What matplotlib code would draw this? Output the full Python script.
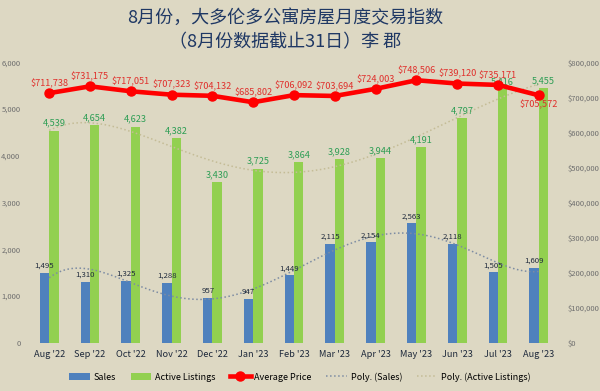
import numpy as np
import matplotlib.pyplot as plt
from matplotlib.ticker import FuncFormatter

plt.rcParams['font.family'] = ['Noto Sans CJK SC', 'DejaVu Sans']

months = ["Aug '22", "Sep '22", "Oct '22", "Nov '22", "Dec '22", "Jan '23", "Feb '23",
          "Mar '23", "Apr '23", "May '23", "Jun '23", "Jul '23", "Aug '23"]
sales = [1495, 1310, 1325, 1288, 957, 947, 1449, 2115, 2154, 2563, 2118, 1505, 1609]
listings = [4539, 4654, 4623, 4382, 3430, 3725, 3864, 3928, 3944, 4191, 4797, 5416, 5455]
price = [711738, 731175, 717051, 707323, 704132, 685802, 706092, 703694, 724003,
         748506, 739120, 735171, 705572]

bg = '#DDD8C3'
blue = '#4F81BD'
green = '#92D050'
red = '#FF0000'

fig = plt.figure(figsize=(6, 3.91), dpi=100, facecolor=bg)
ax = fig.add_axes([0.048, 0.123, 0.884, 0.718], facecolor=bg)
ax2 = ax.twinx()

x = np.arange(len(months))
w = 0.23
b1 = ax.bar(x - w / 2, sales, w, color=blue, label='Sales')
b2 = ax.bar(x + w / 2, listings, w, color=green, label='Active Listings')

# polynomial trendlines (order 5), like the Excel ones
xs = np.linspace(0, len(months) - 1, 200)
ps = np.polyfit(x, sales, 5)
pl = np.polyfit(x, listings, 5)
t1, = ax.plot(xs, np.polyval(ps, xs), ':', color='#7D8CA3', lw=1.1, label='Poly. (Sales)')
t2, = ax.plot(xs, np.polyval(pl, xs), ':', color='#C4BC96', lw=1.1, label='Poly. (Active Listings)')

ln, = ax2.plot(x, price, '-o', color=red, lw=3.3, ms=6.5, label='Average Price')

for i in range(len(months)):
    ax.text(x[i] - w / 2, sales[i] + 60, f'{sales[i]:,}', ha='center', va='bottom',
            fontsize=5.6, color='#1F2A3C')
    ax.text(x[i] + w / 2, listings[i] + 60, f'{listings[i]:,}', ha='center', va='bottom',
            fontsize=6.6, color='#2E9E55')
    if i == len(months) - 1:
        ax2.text(x[i], price[i] - 14000, f'${price[i]:,}', ha='center', va='top',
                 fontsize=6.6, color='#E0302C')
    else:
        ax2.text(x[i], price[i] + 14000, f'${price[i]:,}', ha='center', va='bottom',
                 fontsize=6.6, color='#E0302C')

ax.set_xlim(-0.5, len(months) - 0.5)
ax.set_ylim(0, 6000)
ax2.set_ylim(0, 800000)
ax.set_yticks(range(0, 6001, 1000))
ax2.set_yticks(range(0, 800001, 100000))
ax.yaxis.set_major_formatter(FuncFormatter(lambda v, p: f'{int(v):,}'))
ax2.yaxis.set_major_formatter(FuncFormatter(lambda v, p: f'${int(v):,}'))
ax.set_xticks(x)
ax.set_xticklabels(months, fontsize=6.6, color='#1F2A3C')
ax.tick_params(axis='y', labelsize=5.5, labelcolor='#6E6E6E', length=0, pad=6)
ax2.tick_params(axis='y', labelsize=5.5, labelcolor='#6E6E6E', length=0, pad=6)
ax.tick_params(axis='x', length=0, pad=5)
for a in (ax, ax2):
    for s in a.spines.values():
        s.set_visible(False)

fig.text(0.475, 0.955, '8月份，大多伦多公寓房屋月度交易指数', ha='center', va='center',
         fontsize=13, color='#1F3864')
fig.text(0.475, 0.893, '（8月份数据截止31日）李 郡', ha='center', va='center',
         fontsize=13, color='#1F3864')

fig.legend(handles=[b1, b2, ln, t1, t2], loc='center', bbox_to_anchor=(0.5, 0.036),
           ncol=5, frameon=False, fontsize=6.5, handlelength=2.3, columnspacing=1.6,
           handletextpad=0.4)

fig.savefig('out.png', dpi=100, facecolor=bg)
